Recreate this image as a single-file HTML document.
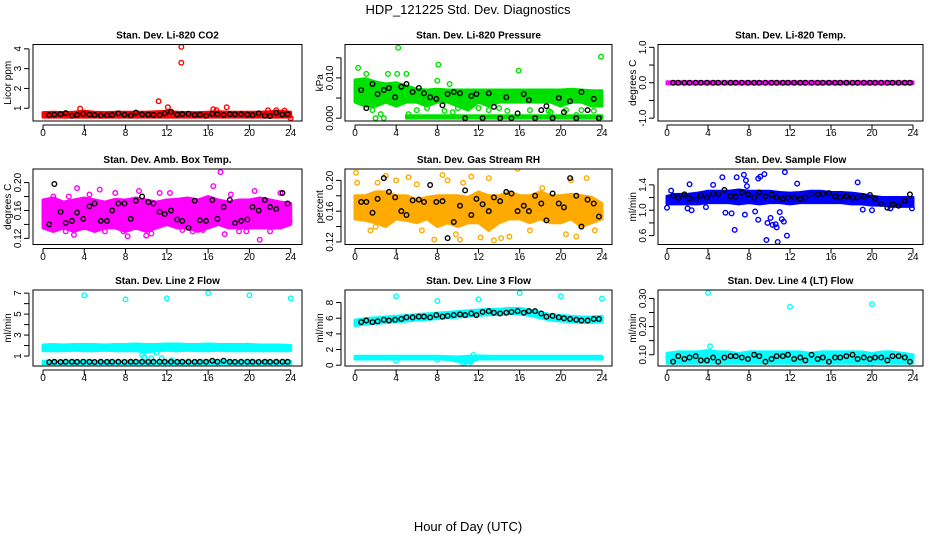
<!DOCTYPE html>
<html><head><meta charset="utf-8"><style>
html,body{margin:0;padding:0;background:#fff;}
svg text{font-family:"Liberation Sans",Arial,sans-serif;}
</style></head><body>
<svg id="chart" width="936" height="540" viewBox="0 0 936 540" xmlns="http://www.w3.org/2000/svg">
<rect x="0" y="0" width="936" height="540" fill="#fff"/>
<text x="468" y="14" text-anchor="middle" font-size="13">HDP_121225  Std. Dev. Diagnostics</text>
<text x="468" y="531" text-anchor="middle" font-size="13">Hour of Day (UTC)</text>
</svg>
<script>
// shared data
const hours = [0,1,2,3,4,5,6,7,8,9,10,11,12,13,14,15,16,17,18,19,20,21,22,23,24];
const sampleHours = [0.6,1.1,1.7,2.2,2.8,3.3,3.9,4.5,5.0,5.6,6.2,6.7,7.3,7.9,8.5,9.0,9.6,10.2,10.7,11.3,11.8,12.4,13.0,13.5,14.1,14.7,15.2,15.8,16.4,16.9,17.5,18.1,18.6,19.2,19.8,20.3,20.9,21.5,22.0,22.6,23.2,23.7];
const xTicks = [0,4,8,12,16,20,24];

// CO2
const co2Lo = [0.55,0.55,0.55,0.55,0.55,0.55,0.55,0.55,0.55,0.55,0.55,0.55,0.55,0.55,0.55,0.55,0.55,0.55,0.55,0.55,0.55,0.55,0.55,0.55,0.55];
const co2Hi = [0.78,0.8,0.78,0.8,0.85,0.8,0.78,0.8,0.8,0.8,0.8,0.82,0.85,0.8,0.78,0.78,0.8,0.82,0.8,0.8,0.8,0.8,0.82,0.85,0.8];
const co2OutX = [13.4,13.4,11.2,12.1,3.6,16.5,17.8,16.8,21.8,22.6,24,23.4];
const co2OutY = [4.1,3.3,1.35,1.05,0.98,0.95,1.05,0.9,0.9,0.9,0.5,0.88];
const co2Black = [0.65,0.68,0.7,0.75,0.62,0.66,0.72,0.68,0.66,0.63,0.64,0.66,0.74,0.67,0.63,0.78,0.69,0.68,0.66,0.65,0.74,0.82,0.68,0.7,0.72,0.66,0.68,0.62,0.72,0.7,0.66,0.7,0.69,0.7,0.68,0.66,0.74,0.62,0.6,0.78,0.68,0.7];

// Pressure
const presLo = [0.004,0.003,0.003,0.004,0.003,0.004,0.004,0.003,0.004,0.004,0.003,0.002,0.004,0.003,0.004,0.004,0.004,0.004,0.004,0.004,0.003,0.004,0.004,0.003,0.003];
const presHi = [0.0095,0.0098,0.009,0.0085,0.0088,0.008,0.0072,0.007,0.0072,0.007,0.007,0.007,0.007,0.007,0.007,0.007,0.007,0.007,0.007,0.007,0.007,0.0072,0.007,0.0068,0.0068];
const presBaseLo = [null,null,null,null,null,0,0,0,0,0,0,0,0,0,0,0,0,0,0,0,0,0,0,0,0];
const presBaseHi = [null,null,null,null,null,0.0006,0.0006,0.0006,0.0006,0.0006,0.0006,0.0006,0.0006,0.0006,0.0006,0.0006,0.0006,0.0006,0.0006,0.0006,0.0006,0.0006,0.0006,0.0006,0.0006];
const presOutX = [4.2,23.9,8.1,15.9,0.3,1.1,3.2,4.1,5.0,8.0,9.2,2.0,2.8,1.7,5.2,8.7,14.8,18.8,21.5,23.2,12,10,6,7,9.5,11,13,14,17,19,20.5,22,2.5,1.5];
const presOutY = [0.0175,0.0153,0.0133,0.0118,0.0125,0.011,0.011,0.011,0.011,0.0093,0.0085,0.0,0.0,0.002,0.001,0.0018,0.0018,0.0018,0.0008,0.0018,0.0025,0.0025,0.002,0.0025,0.0015,0.0025,0.002,0.0025,0.002,0.0015,0.002,0.002,0.001,0.0035];
const presBlack = [0.007,0.0025,0.0085,0.006,0.007,0.0075,0.0052,0.0078,0.0085,0.0065,0.0075,0.0062,0.0052,0.0048,0.0032,0.006,0.0065,0.0062,0.0,0.0055,0.006,0.0,0.0062,0.0028,0.0,0.0052,0.0,0.0012,0.006,0.0045,0.0,0.002,0.003,0.0,0.005,0.0015,0.0042,0.0,0.0065,0.002,0.0048,0.0];

// Li-820 Temp
const tempLo = [-0.03,-0.03,-0.03,-0.03,-0.03,-0.03,-0.03,-0.03,-0.03,-0.03,-0.03,-0.03,-0.03,-0.03,-0.03,-0.03,-0.03,-0.03,-0.03,-0.03,-0.03,-0.03,-0.03,-0.03,-0.03];
const tempHi = [0.03,0.03,0.03,0.03,0.03,0.03,0.03,0.03,0.03,0.03,0.03,0.03,0.03,0.03,0.03,0.03,0.03,0.03,0.03,0.03,0.03,0.03,0.03,0.03,0.03];
const tempBlack = [0,0,0,0,0,0,0,0,0,0,0,0,0,0,0,0,0,0,0,0,0,0,0,0,0,0,0,0,0,0,0,0,0,0,0,0,0,0,0,0,0,0];

// Amb box temp
const ambLo = [0.135,0.13,0.135,0.13,0.135,0.13,0.135,0.135,0.13,0.135,0.13,0.135,0.14,0.135,0.135,0.13,0.135,0.14,0.135,0.135,0.135,0.135,0.135,0.135,0.14];
const ambHi = [0.175,0.178,0.172,0.175,0.178,0.175,0.172,0.176,0.175,0.178,0.175,0.172,0.175,0.176,0.178,0.175,0.18,0.175,0.172,0.175,0.175,0.178,0.175,0.172,0.17];
const ambOutX = [0.3,1,1.5,2.5,3.0,3.3,4.5,5.5,6,7,8.2,9.3,10,10.5,11.3,13.5,14.5,15.5,16.5,17.2,17.6,18.2,19.7,20.5,21,22,23,23.9,12.3,2.2,5.0,7.8,19,22.5];
const ambOutY = [0.165,0.18,0.14,0.18,0.125,0.192,0.183,0.19,0.13,0.185,0.123,0.188,0.124,0.127,0.185,0.132,0.13,0.132,0.195,0.215,0.126,0.183,0.13,0.188,0.118,0.13,0.185,0.145,0.185,0.13,0.135,0.13,0.13,0.138];
const ambBlack = [0.14,0.198,0.158,0.142,0.145,0.157,0.148,0.166,0.17,0.145,0.145,0.16,0.17,0.17,0.148,0.174,0.18,0.172,0.17,0.158,0.155,0.16,0.147,0.145,0.135,0.174,0.146,0.145,0.175,0.148,0.165,0.175,0.142,0.145,0.147,0.165,0.16,0.175,0.165,0.162,0.185,0.17];

// Gas RH
const rhLo = [0.15,0.148,0.145,0.14,0.15,0.148,0.145,0.15,0.14,0.145,0.14,0.145,0.145,0.135,0.145,0.15,0.15,0.145,0.15,0.145,0.145,0.15,0.14,0.145,0.15];
const rhHi = [0.18,0.18,0.185,0.185,0.18,0.18,0.175,0.178,0.18,0.18,0.18,0.178,0.185,0.18,0.18,0.185,0.18,0.18,0.185,0.18,0.18,0.182,0.18,0.178,0.17];
const rhOutX = [0.1,0.2,1.5,2.2,3.0,4,5.2,6,7.7,8.5,9,10.2,10.5,11.3,12.2,13,13.5,14.2,15,15.8,18.2,20.5,21,21.5,22.5,23.3,9.8,2,6.5,17];
const rhOutY = [0.21,0.197,0.135,0.197,0.206,0.2,0.204,0.195,0.123,0.207,0.2,0.123,0.197,0.205,0.126,0.203,0.122,0.125,0.127,0.215,0.19,0.13,0.2,0.127,0.203,0.135,0.13,0.14,0.135,0.135];
const rhBlack = [0.172,0.172,0.158,0.176,0.203,0.185,0.178,0.16,0.155,0.174,0.175,0.172,0.194,0.172,0.173,0.125,0.146,0.167,0.187,0.155,0.176,0.169,0.16,0.178,0.173,0.185,0.183,0.16,0.167,0.16,0.18,0.17,0.148,0.183,0.17,0.165,0.203,0.18,0.14,0.175,0.17,0.153];

// Sample flow
const sfLo = [1.1,1.1,1.1,1.1,1.12,1.12,1.12,1.1,1.12,1.1,1.12,1.12,1.1,1.12,1.12,1.12,1.12,1.12,1.1,1.1,1.08,1.08,1.06,1.06,1.06];
const sfHi = [1.22,1.25,1.25,1.27,1.3,1.3,1.3,1.32,1.3,1.3,1.3,1.28,1.27,1.28,1.3,1.3,1.28,1.28,1.27,1.25,1.22,1.2,1.2,1.2,1.2];
const sfOutX = [0,0.4,2.2,2.4,2.0,3.8,4.5,5.4,5.7,6.3,6.6,6.8,7.5,7.7,7.8,7.6,8.6,8.9,8.9,9.1,9.5,9.8,10.1,10.6,10.8,10.3,11.0,11.2,11.4,11.5,11.7,9.7,12.7,18.6,19.1,20.0,21.8,23.9,10.7];
const sfOutY = [1.04,1.31,1.41,1.0,1.03,1.05,1.4,1.52,0.96,0.95,0.69,1.52,1.56,1.47,1.38,0.93,0.98,0.85,1.5,1.53,1.57,0.8,0.88,0.78,0.5,0.77,0.97,0.86,0.82,1.6,0.6,0.53,1.42,1.44,1.01,1.0,1.03,1.03,0.73];
const sfBlack = [1.23,1.2,1.25,1.19,1.17,1.23,1.2,1.26,1.26,1.32,1.22,1.21,1.28,1.25,1.2,1.28,1.22,1.25,1.2,1.18,1.2,1.2,1.18,1.2,1.26,1.25,1.26,1.27,1.22,1.2,1.22,1.2,1.2,1.22,1.24,1.18,1.1,1.04,1.09,1.07,1.15,1.25];

// Line 2 flow
const l2Lo = [1.5,1.5,1.5,1.55,1.5,1.5,1.55,1.5,1.5,1.5,1.4,1.5,1.55,1.5,1.55,1.5,1.5,1.55,1.5,1.5,1.5,1.5,1.5,1.5,1.5];
const l2Hi = [2.05,2.1,2.05,2.1,2.1,2.1,2.05,2.1,2.1,2.15,2.1,2.1,2.15,2.15,2.1,2.1,2.15,2.1,2.1,2.1,2.1,2.05,2.05,2.05,2.0];
const l2BaseLo = [0.25,0.25,0.25,0.25,0.25,0.25,0.25,0.25,0.25,0.25,0.25,0.25,0.25,0.25,0.25,0.25,0.25,0.25,0.25,0.25,0.25,0.25,0.25,0.25,0.25];
const l2BaseHi = [0.5,0.5,0.5,0.5,0.55,0.5,0.5,0.5,0.5,0.5,0.5,0.5,0.5,0.5,0.5,0.5,0.55,0.55,0.5,0.5,0.5,0.5,0.5,0.5,0.5];
const l2OutX = [4,8,12,16,20,24,9.6,9.8,10.5,11,11.5,12.5,19.8];
const l2OutY = [6.8,6.4,6.5,7.0,6.8,6.5,1.1,0.9,0.8,1.3,0.8,0.6,2.0];
const l2Black = [0.42,0.45,0.43,0.46,0.45,0.44,0.46,0.45,0.43,0.45,0.44,0.46,0.45,0.44,0.45,0.46,0.45,0.44,0.45,0.46,0.45,0.45,0.44,0.46,0.45,0.44,0.45,0.45,0.55,0.46,0.55,0.45,0.44,0.45,0.46,0.45,0.44,0.45,0.44,0.45,0.46,0.45];

// Line 3 flow
const l3Lo = [5.05,5.25,5.35,5.45,5.55,5.65,5.75,5.85,5.95,6.05,6.15,6.25,6.35,6.45,6.45,6.55,6.55,6.35,6.05,5.75,5.65,5.55,5.45,5.45,5.55];
const l3Hi = [5.75,5.95,6.05,6.15,6.25,6.35,6.45,6.55,6.65,6.75,6.85,6.95,7.05,7.15,7.15,7.25,7.25,7.05,6.75,6.45,6.35,6.25,6.15,6.15,6.25];
const l3BaseLo = [0.8,0.8,0.8,0.8,0.8,0.8,0.8,0.8,0.8,0.75,0.5,0.3,0.8,0.8,0.8,0.8,0.8,0.8,0.8,0.8,0.8,0.8,0.8,0.8,0.8];
const l3BaseHi = [1.15,1.15,1.15,1.15,1.15,1.15,1.15,1.15,1.15,1.1,1.05,1.15,1.2,1.15,1.15,1.15,1.15,1.15,1.15,1.15,1.15,1.15,1.15,1.15,1.15];
const l3OutX = [4,8,12,16,20,24,10.5,11,11.3,11.5,4,8];
const l3OutY = [8.8,8.2,8.4,9.2,8.8,8.5,0.3,0.1,0.5,1.3,0.6,0.7];
const l3Black = [5.5,5.7,5.5,5.6,5.8,5.7,5.8,5.9,6.1,6.1,6.2,6.2,6.1,6.4,6.2,6.3,6.4,6.5,6.4,6.6,6.4,6.8,6.9,6.7,6.6,6.7,6.8,6.9,6.7,6.9,6.9,6.6,6.2,6.3,6.1,6.0,5.9,5.8,5.7,5.7,5.9,5.9];

// Line 4 flow
const l4Lo = [0.07,0.07,0.07,0.07,0.07,0.07,0.07,0.07,0.07,0.07,0.07,0.07,0.07,0.07,0.07,0.07,0.07,0.07,0.07,0.07,0.07,0.07,0.07,0.07,0.07];
const l4Hi = [0.105,0.11,0.11,0.11,0.115,0.11,0.11,0.105,0.11,0.11,0.11,0.11,0.11,0.11,0.105,0.11,0.11,0.11,0.11,0.11,0.105,0.11,0.11,0.105,0.1];
const l4OutX = [4,12,20,4.2,19.8];
const l4OutY = [0.32,0.27,0.28,0.13,0.06];
const l4Black = [0.075,0.095,0.085,0.09,0.095,0.08,0.08,0.09,0.075,0.09,0.095,0.095,0.09,0.085,0.1,0.095,0.075,0.085,0.095,0.095,0.1,0.085,0.09,0.08,0.1,0.085,0.09,0.075,0.09,0.09,0.095,0.1,0.085,0.09,0.085,0.09,0.09,0.08,0.095,0.095,0.09,0.075];

const NS = 'http://www.w3.org/2000/svg';
const svg = document.getElementById('chart');
function mk(tag, attrs, parent){ const e=document.createElementNS(NS,tag); for(const k in attrs) e.setAttribute(k,attrs[k]); (parent||svg).appendChild(e); return e; }

const cols = [{l:33,r:302,x0:43,x24:290.7},{l:345,r:612,x0:355,x24:602},{l:658,r:923,x0:667,x24:913}];
const rows = [{t:44.5,b:121,tl:136},{t:169,b:244.5,tl:260},{t:290,b:366,tl:381}];

const panels = [
 {name:'co2',title:'Stan. Dev. Li-820 CO2',ylab:'Licor ppm',c:0,r:0,ymin:0.355,ymax:4.22,ticks:[1,2,3,4],labels:['1','2','3','4'],color:'#ff0000',bands:[[co2Lo,co2Hi]],outX:co2OutX,outY:co2OutY,black:co2Black},
 {name:'pressure',title:'Stan. Dev. Li-820 Pressure',ylab:'kPa',c:1,r:0,ymin:-0.0007,ymax:0.0183,ticks:[0,0.005,0.01,0.015],labels:['0.000','','0.010',''],color:'#00e000',bands:[[presLo,presHi],[presBaseLo,presBaseHi]],outX:presOutX,outY:presOutY,black:presBlack},
 {name:'temp',title:'Stan. Dev. Li-820 Temp.',ylab:'degrees C',c:2,r:0,ymin:-1.08,ymax:1.08,ticks:[-1,-0.5,0,0.5,1],labels:['-1.0','','0.0','','1.0'],color:'#ff00ff',bands:[[tempLo,tempHi]],outX:[],outY:[],black:tempBlack},
 {name:'amb-temp',title:'Stan. Dev. Amb. Box Temp.',ylab:'degrees C',c:0,r:1,ymin:0.1112,ymax:0.2195,ticks:[0.12,0.14,0.16,0.18,0.2],labels:['0.12','','0.16','','0.20'],color:'#ff00ff',bands:[[ambLo,ambHi]],outX:ambOutX,outY:ambOutY,black:ambBlack},
 {name:'gas-rh',title:'Stan. Dev. Gas Stream RH',ylab:'percent',c:1,r:1,ymin:0.1167,ymax:0.2148,ticks:[0.12,0.14,0.16,0.18,0.2],labels:['0.12','','0.16','','0.20'],color:'#ffaa00',bands:[[rhLo,rhHi]],outX:rhOutX,outY:rhOutY,black:rhBlack},
 {name:'sample-flow',title:'Stan. Dev. Sample Flow',ylab:'ml/min',c:2,r:1,ymin:0.46,ymax:1.65,ticks:[0.6,0.8,1.0,1.2,1.4],labels:['0.6','','1.0','','1.4'],color:'#0000ff',bands:[[sfLo,sfHi]],outX:sfOutX,outY:sfOutY,black:sfBlack},
 {name:'line2-flow',title:'Stan. Dev. Line 2 Flow',ylab:'ml/min',c:0,r:2,ymin:0.05,ymax:7.3,ticks:[1,2,3,4,5,6,7],labels:['1','','3','','5','','7'],color:'#00ffff',bands:[[l2Lo,l2Hi],[l2BaseLo,l2BaseHi]],outX:l2OutX,outY:l2OutY,black:l2Black},
 {name:'line3-flow',title:'Stan. Dev. Line 3 Flow',ylab:'ml/min',c:1,r:2,ymin:-0.1,ymax:9.6,ticks:[0,2,4,6,8],labels:['0','2','4','6','8'],color:'#00ffff',bands:[[l3Lo,l3Hi],[l3BaseLo,l3BaseHi]],outX:l3OutX,outY:l3OutY,black:l3Black},
 {name:'line4-flow',title:'Stan. Dev. Line 4 (LT) Flow',ylab:'ml/min',c:2,r:2,ymin:0.06,ymax:0.33,ticks:[0.1,0.15,0.2,0.25,0.3],labels:['0.10','','0.20','','0.30'],color:'#00ffff',bands:[[l4Lo,l4Hi]],outX:l4OutX,outY:l4OutY,black:l4Black}
];

panels.forEach(p=>{
  const C=cols[p.c], R=rows[p.r];
  const xs = h => C.x0 + (C.x24-C.x0)*h/24;
  const ys = v => R.b - (v-p.ymin)/(p.ymax-p.ymin)*(R.b-R.t);
  const g = mk('g',{});
  
  
  const clip = mk('clipPath',{id:'clip-'+p.name},g);
  mk('rect',{x:C.l,y:R.t,width:C.r-C.l,height:R.b-R.t},clip);
  const plot = mk('g',{'clip-path':'url(#clip-'+p.name+')'},g);
  p.bands.forEach((b,bi)=>{
    const lo=b[0], hi=b[1]; const top=[], bot=[];
    hours.forEach((h,i)=>{ if(lo[i]==null) return; top.push(xs(h)+','+ys(hi[i])); bot.unshift(xs(h)+','+ys(lo[i])); });
    const poly = mk('polygon',{points:top.concat(bot).join(' '),fill:p.color,stroke:p.color,'stroke-width':3,'stroke-linejoin':'round'},plot);
    
    
  });
  p.outX.forEach((h,i)=>{
    const c = mk('circle',{cx:xs(h),cy:ys(p.outY[i]),r:2.3,fill:'none',stroke:p.color,'stroke-width':1.4},plot);
    
    
  });
  const n=Math.min(sampleHours.length,p.black.length);
  for(let i=0;i<n;i++){
    const c = mk('circle',{cx:xs(sampleHours[i]),cy:ys(p.black[i]),r:2.3,fill:'none',stroke:'#000','stroke-width':1.4},plot);
    
    
  }
  const box = mk('rect',{x:C.l,y:R.t,width:C.r-C.l,height:R.b-R.t,fill:'none',stroke:'#000','stroke-width':1},g);
  
  
  const xa = mk('g',{},g);
  
  
  mk('line',{x1:xs(0),x2:xs(24),y1:R.b+4,y2:R.b+4,stroke:'#000'},xa);
  xTicks.forEach(t=>{
    mk('line',{x1:xs(t),x2:xs(t),y1:R.b+4,y2:R.b+9,stroke:'#000'},xa);
    const tx = mk('text',{x:xs(t),y:R.tl,'text-anchor':'middle','font-size':10},xa);
    tx.textContent=t;
    
    
  });
  const ya = mk('g',{},g);
  
  
  const yx = C.l-4;
  mk('line',{x1:yx,x2:yx,y1:ys(p.ticks[0]),y2:ys(p.ticks[p.ticks.length-1]),stroke:'#000'},ya);
  p.ticks.forEach((t,i)=>{
    mk('line',{x1:yx-5,x2:yx,y1:ys(t),y2:ys(t),stroke:'#000'},ya);
    if(p.labels[i]){
      const tx = mk('text',{x:0,y:0,'text-anchor':'middle','font-size':10,transform:'translate('+(yx-8)+','+ys(t)+') rotate(-90)'},ya);
      tx.textContent=p.labels[i];
      
      
    }
  });
  const yl = mk('text',{x:0,y:0,'text-anchor':'middle','font-size':10,transform:'translate('+(C.l-22)+','+((R.t+R.b)/2)+') rotate(-90)'},g);
  yl.textContent=p.ylab;
  
  
  const ti = mk('text',{x:(C.l+C.r)/2,y:R.t-6,'text-anchor':'middle','font-size':10,'font-weight':'bold'},g);
  ti.textContent=p.title;
  
  
});
</script>
</body></html>
